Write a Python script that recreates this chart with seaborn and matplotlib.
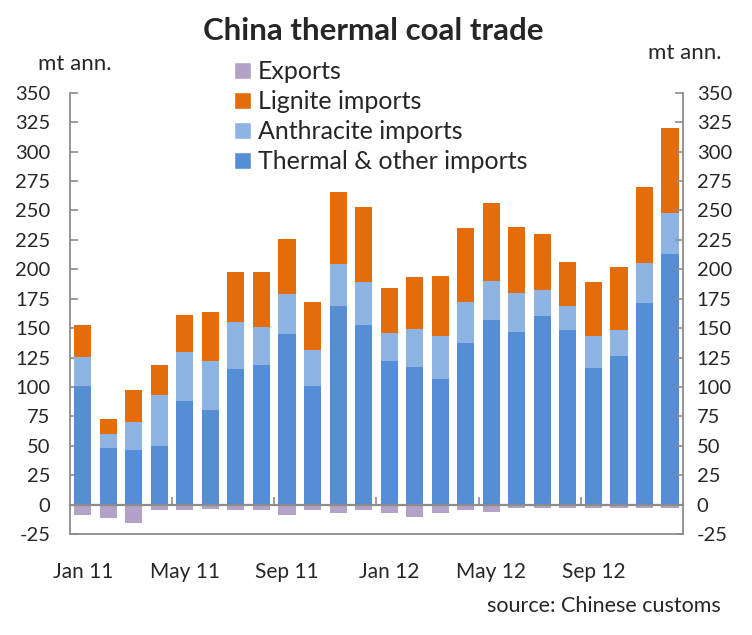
import matplotlib
matplotlib.use("Agg")
import matplotlib.pyplot as plt
from matplotlib.patches import Patch
import seaborn as sns
import pandas as pd
import numpy as np

months = ["Jan 11", "Feb 11", "Mar 11", "Apr 11", "May 11", "Jun 11", "Jul 11", "Aug 11",
          "Sep 11", "Oct 11", "Nov 11", "Dec 11", "Jan 12", "Feb 12", "Mar 12", "Apr 12",
          "May 12", "Jun 12", "Jul 12", "Aug 12", "Sep 12", "Oct 12", "Nov 12", "Dec 12"]
thermal = [101, 48, 46, 50, 88, 80, 115, 119, 145, 101, 169, 153,
           122, 117, 107, 137, 157, 147, 160, 148, 116, 126, 171, 213]
anthracite = [24.5, 12, 24, 43.5, 42, 42, 40, 32, 34, 30, 35.5, 36.5,
              23.5, 32, 36.5, 35, 33, 33, 22.5, 21, 27, 22, 34, 35]
lignite = [27.5, 13, 27, 25.5, 31, 42, 43, 47, 47, 41, 61.5, 63.5,
           38.5, 44, 50.5, 63, 66, 56, 47.5, 37, 46, 54, 65, 72]
exports = [-9, -11, -15.5, -5, -4.5, -3.5, -5, -5, -9, -5, -7, -4.5,
           -7, -10.5, -7.5, -5, -6.5, -3, -2.5, -2.5, -2.5, -2.5, -2.5, -2.5]
xtick_labels = ["Jan 11", "May 11", "Sep 11", "Jan 12", "May 12", "Sep 12"]
yticks = list(range(-25, 351, 25))

c_thermal = "#558ED5"
c_anth = "#8EB4E3"
c_lig = "#E46C0A"
c_exp = "#B3A2C7"
grey = "#8C8C8C"

sns.set_theme(style="white")
plt.rcParams["font.family"] = ["Lato", "DejaVu Sans"]

df = pd.DataFrame({"month": months, "thermal": thermal, "anthracite": anthracite,
                   "lignite": lignite, "exports": exports})
df["anth_top"] = df["thermal"] + df["anthracite"]
df["lig_top"] = df["anth_top"] + df["lignite"]

fig = plt.figure(figsize=(7.52, 6.35), dpi=100)
ax = fig.add_axes([0.093, 0.159, 0.815, 0.695])

bw = 0.67
sns.barplot(data=df, x="month", y="lig_top", order=months, color=c_lig, width=bw,
            saturation=1, ax=ax, linewidth=0)
sns.barplot(data=df, x="month", y="anth_top", order=months, color=c_anth, width=bw,
            saturation=1, ax=ax, linewidth=0)
sns.barplot(data=df, x="month", y="thermal", order=months, color=c_thermal, width=bw,
            saturation=1, ax=ax, linewidth=0)
sns.barplot(data=df, x="month", y="exports", order=months, color=c_exp, width=bw,
            saturation=1, ax=ax, linewidth=0)

ax.set_xlim(-0.5, len(months) - 0.5)
ax.set_ylim(-25, 350)
ax.set_xlabel("")
ax.set_ylabel("")

# axes styling
for s in ["top", "right"]:
    ax.spines[s].set_visible(False)
ax.spines["left"].set_color(grey)
ax.spines["left"].set_linewidth(1.3)
ax.spines["bottom"].set_position(("data", 0))
ax.spines["bottom"].set_color(grey)
ax.spines["bottom"].set_linewidth(1.6)
ax.axhline(-25, color=grey, lw=1.3, clip_on=False, zorder=5)

ax.set_yticks(yticks)
ax.set_yticklabels([str(v) for v in yticks], fontsize=14.5)
ax.tick_params(axis="y", direction="in", length=6, color=grey, width=1.2, pad=14, left=True)

lab_pos = [months.index(m) for m in xtick_labels]
ax.set_xticks([3.5, 7.5, 11.5, 15.5, 19.5])
ax.set_xticklabels([])
ax.tick_params(axis="x", which="major", direction="in", length=6, color=grey, width=1.2, bottom=True)
ax.set_xticks(lab_pos, minor=True)
ax.set_xticklabels(xtick_labels, minor=True, fontsize=15)
ax.tick_params(axis="x", which="minor", length=0, pad=41)

ax2 = ax.twinx()
ax2.set_ylim(-25, 350)
ax2.set_yticks(yticks)
ax2.set_yticklabels([str(v) for v in yticks], fontsize=14.5)
ax2.tick_params(axis="y", direction="in", length=6, color=grey, width=1.2, pad=10, right=True)
for s in ["top", "left", "bottom"]:
    ax2.spines[s].set_visible(False)
ax2.spines["right"].set_color(grey)
ax2.spines["right"].set_linewidth(1.3)

handles = [Patch(facecolor=c_exp, label="Exports"),
           Patch(facecolor=c_lig, label="Lignite imports"),
           Patch(facecolor=c_anth, label="Anthracite imports"),
           Patch(facecolor=c_thermal, label="Thermal & other imports")]
ax.legend(handles=handles, loc="upper left", bbox_to_anchor=(0.252, 1.096), frameon=False,
          fontsize=18, handlelength=0.65, handleheight=0.65, handletextpad=0.3,
          labelspacing=0.28, borderaxespad=0)

fig.text(0.497, 0.951, "China thermal coal trade", ha="center", va="center",
         fontsize=22.5, fontweight="bold")
fig.text(0.1, 0.9, "mt ann.", ha="center", va="center", fontsize=16)
fig.text(0.911, 0.916, "mt ann.", ha="center", va="center", fontsize=16)
fig.text(0.958, 0.045, "source: Chinese customs", ha="right", va="center", fontsize=15.5)

fig.savefig("out.png", dpi=100)
